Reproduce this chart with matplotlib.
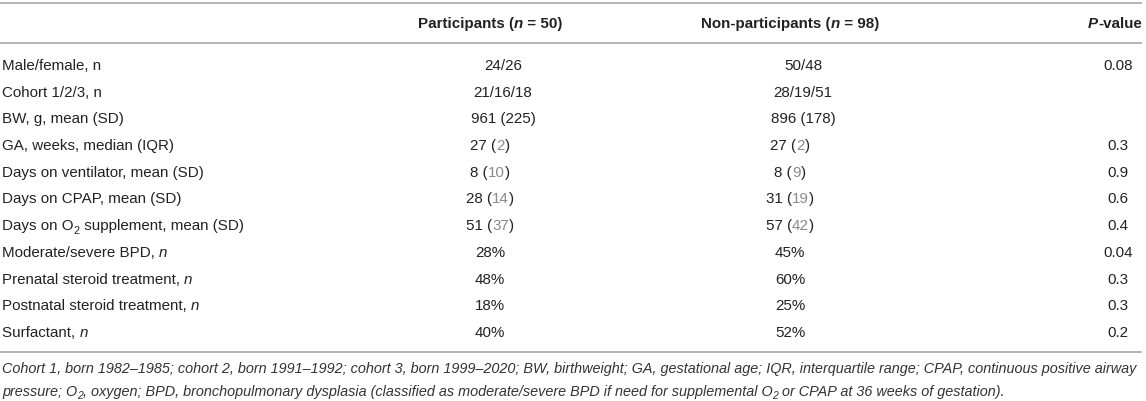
import re
import matplotlib
matplotlib.use("Agg")
import matplotlib.pyplot as plt

# markup: *x* italic, [x] grey, _2 subscript
headers = ["Participants (*n* = 50)", "Non-participants (*n* = 98)", "*P*-value"]

row_labels = [
    "Male/female, n",
    "Cohort 1/2/3, n",
    "BW, g, mean (SD)",
    "GA, weeks, median (IQR)",
    "Days on ventilator, mean (SD)",
    "Days on CPAP, mean (SD)",
    "Days on O_2 supplement, mean (SD)",
    "Moderate/severe BPD, *n*",
    "Prenatal steroid treatment, *n*",
    "Postnatal steroid treatment, *n*",
    "Surfactant, *n*",
]
participants = ["24/26", "21/16/18", "961 (225)", "27 ([2])", "8 ([10])", "28 ([14])",
                "51 ([37])", "28%", "48%", "18%", "40%"]
non_participants = ["50/48", "28/19/51", "896 (178)", "27 ([2])", "8 ([9])", "31 ([19])",
                    "57 ([42])", "45%", "60%", "25%", "52%"]
p_values = ["0.08", "", "", "0.3", "0.9", "0.6", "0.4", "0.04", "0.3", "0.3", "0.2"]

footnote = [
    "Cohort 1, born 1982\u20131985; cohort 2, born 1991\u20131992; cohort 3, born 1999\u20132020; "
    "BW, birthweight; GA, gestational age; IQR, interquartile range; CPAP, continuous positive airway",
    "pressure; O_2, oxygen; BPD, bronchopulmonary dysplasia (classified as moderate/severe BPD "
    "if need for supplemental O_2 or CPAP at 36 weeks of gestation).",
]

W, H = 1146, 402
FONT = "Liberation Sans"
BODY = 10.9
NOTE = 10.4
INK = "#222222"
GREY = "#8a8a8a"
RULE = "#b4b4b4"

fig = plt.figure(figsize=(W / 100, H / 100), dpi=100)
ax = fig.add_axes([0, 0, 1, 1])
ax.set_xlim(0, W)
ax.set_ylim(H, 0)
ax.axis("off")
renderer = fig.canvas.get_renderer()


def parse(s):
    segs = []
    for tok in re.split(r"(\*[^*]+\*|\[[^\]]+\]|_\d)", s):
        if not tok:
            continue
        if tok.startswith("*"):
            segs.append((tok[1:-1], "italic", None, False))
        elif tok.startswith("["):
            segs.append((tok[1:-1], None, GREY, False))
        elif tok.startswith("_"):
            segs.append((tok[1:], None, None, True))
        else:
            segs.append((tok, None, None, False))
    return segs


def width(txt, **kw):
    a = ax.text(0, 0, "x" + txt + "x", **kw)
    b = ax.text(0, 0, "xx", **kw)
    w = a.get_window_extent(renderer).width - b.get_window_extent(renderer).width
    a.remove()
    b.remove()
    return w


def draw(s, x, y, ha="left", size=BODY, weight="normal", style="normal", color=INK):
    items = []
    for txt, st, col, sub in parse(s):
        kw = dict(family=FONT, fontsize=size * (0.72 if sub else 1), fontweight=weight,
                  fontstyle=st or style, color=col or color, va="center")
        items.append((txt, kw, sub, width(txt, **kw)))
    total = sum(i[3] for i in items)
    if ha == "center":
        x0 = x - total / 2
    elif ha == "right":
        x0 = x - total
    else:
        x0 = x
    for txt, kw, sub, w in items:
        ax.text(x0, y + (size * 0.42 if sub else 0), txt, ha="left", **kw)
        x0 += w


# rules
for y in (4, 44, 353):
    ax.plot([0, 1142], [y, y], color=RULE, lw=1.4, solid_capstyle="butt")

# header
draw(headers[0], 490, 24, ha="center", weight="bold")
draw(headers[1], 790, 24, ha="center", weight="bold")
draw(headers[2], 1142, 24, ha="right", weight="bold")

y0, dy = 66, 26.7
for i, lab in enumerate(row_labels):
    y = y0 + i * dy
    shift = 13 if i < 3 else 0
    draw(lab, 2, y)
    draw(participants[i], 490 + shift, y, ha="center")
    draw(non_participants[i], 790 + shift, y, ha="center")
    if p_values[i]:
        draw(p_values[i], 1118, y, ha="center")

draw(footnote[0], 2, 369, size=NOTE, style="italic", color="#333333")
draw(footnote[1], 2, 392, size=NOTE, style="italic", color="#333333")

fig.savefig("out.png", dpi=100)
